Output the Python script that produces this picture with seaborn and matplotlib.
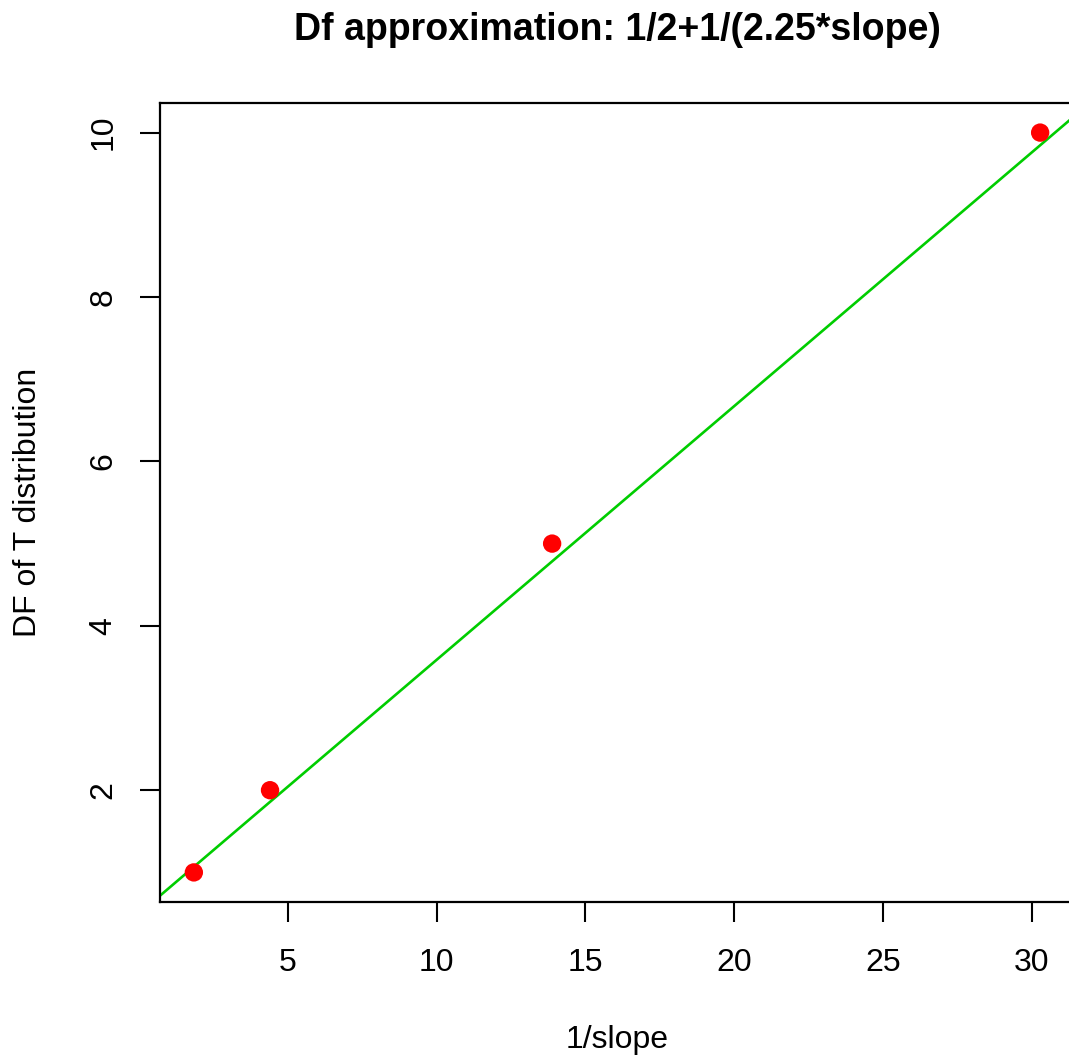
import matplotlib
matplotlib.use("Agg")
import matplotlib.pyplot as plt
import seaborn as sns
import pandas as pd

# data
inv_slope = [1.84, 4.40, 13.88, 30.28]
df_t = [1, 2, 5, 10]
line_intercept = 0.5
line_slope = 1 / 3.24
x_ticks = [5, 10, 15, 20, 25, 30]
y_ticks = [2, 4, 6, 8, 10]

sns.set_theme(style="white")
plt.rcParams['font.family'] = ['Liberation Sans', 'DejaVu Sans']

W, H = 1069, 1059
fig = plt.figure(figsize=(W / 100, H / 100), dpi=100)
l, r, t, b = 160, 1074, 103, 902
ax = fig.add_axes([l / W, 1 - b / H, (r - l) / W, (b - t) / H])

data = pd.DataFrame({"x": inv_slope, "y": df_t})
ax.axline((0, line_intercept), slope=line_slope, color="#00CD00", lw=1.9, zorder=2)
sns.scatterplot(data=data, x="x", y="y", ax=ax, color="#FF0000", s=175,
                edgecolor="none", linewidth=0, zorder=3)

xmin, xmax = min(inv_slope), max(inv_slope)
ymin, ymax = min(df_t), max(df_t)
px = 0.04 * (xmax - xmin)
py = 0.04 * (ymax - ymin)
ax.set_xlim(xmin - px, xmax + px)
ax.set_ylim(ymin - py, ymax + py)

ax.set_xticks(x_ticks)
ax.set_yticks(y_ticks)
ax.set_xticklabels([str(v) for v in x_ticks])
ax.set_yticklabels([str(v) for v in y_ticks], rotation=90, va="center")
ax.tick_params(axis="both", which="major", direction="out", length=14.4,
               width=1.5, color="black", labelsize=23, labelcolor="black",
               bottom=True, left=True)
ax.tick_params(axis="x", pad=18.5)
ax.tick_params(axis="y", pad=15.5)
for s in ax.spines.values():
    s.set_color("black")
    s.set_linewidth(1.6)

ax.set_xlabel("1/slope", fontsize=23, color="black", labelpad=0)
ax.set_ylabel("DF of T distribution", fontsize=23, color="black", labelpad=0)
ax.xaxis.set_label_coords((617 - l) / (r - l), -(1040 - b) / (b - t))
ax.yaxis.set_label_coords(-(l - 28) / (r - l), (b - 502) / (b - t))
ax.xaxis.label.set_va("center")
ax.yaxis.label.set_va("center")

fig.text(617 / W, 1 - 30 / H, "Df approximation: 1/2+1/(2.25*slope)",
         ha="center", va="center", fontsize=27, fontweight="bold", color="black")

fig.savefig("out.png", dpi=100, facecolor="white")
